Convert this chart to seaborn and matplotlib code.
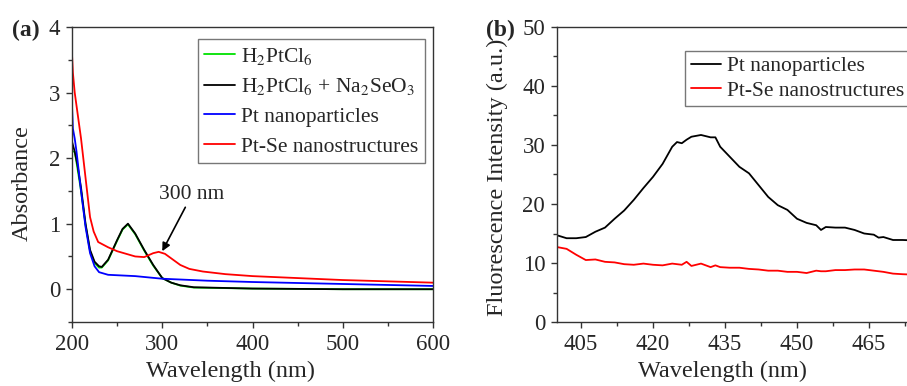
import numpy as np
import pandas as pd
import matplotlib
matplotlib.use("Agg")
import matplotlib.pyplot as plt
from matplotlib.ticker import MultipleLocator
import seaborn as sns

# ---------------- data: panel (a) UV-vis absorbance ----------------
wl_green = [200, 203, 206, 210, 215, 220, 225, 230, 233, 240, 250, 256, 262, 270, 280, 290, 300, 310, 320, 335, 400, 500, 600]
abs_green = [2.1, 2.1, 1.85, 1.5, 0.98, 0.58, 0.4, 0.33, 0.33, 0.44, 0.74, 0.91, 0.99, 0.84, 0.59, 0.36, 0.17, 0.1, 0.055, 0.025, 0.01, 0.0, 0.0]

wl_black = [200, 203, 206, 210, 215, 220, 225, 230, 233, 240, 250, 256, 262, 270, 280, 290, 300, 310, 320, 335, 400, 500, 600]
abs_black = [2.25, 2.1, 1.9, 1.55, 1.0, 0.6, 0.42, 0.35, 0.34, 0.45, 0.75, 0.92, 1.0, 0.85, 0.6, 0.37, 0.17, 0.1, 0.06, 0.03, 0.01, 0.0, 0.0]

wl_blue = [200, 201, 203, 205, 210, 215, 220, 225, 230, 240, 270, 300, 350, 400, 500, 600]
abs_blue = [2.8, 2.45, 2.3, 2.1, 1.5, 0.95, 0.55, 0.35, 0.26, 0.22, 0.2, 0.16, 0.13, 0.11, 0.08, 0.05]

wl_red = [200, 201, 203, 206, 210, 215, 220, 224, 229, 240, 250, 260, 270, 280, 290, 296, 303, 310, 320, 330, 345, 370, 400, 450, 500, 550, 600]
abs_red = [3.58, 3.3, 3.0, 2.7, 2.3, 1.7, 1.1, 0.88, 0.72, 0.64, 0.58, 0.54, 0.5, 0.49, 0.55, 0.57, 0.54, 0.47, 0.37, 0.31, 0.27, 0.23, 0.2, 0.17, 0.14, 0.12, 0.1]

labels_a = [r"H$_2$PtCl$_6$", r"H$_2$PtCl$_6$ + Na$_2$SeO$_3$", "Pt nanoparticles", "Pt-Se nanostructures"]
colors_a = ["#00e000", "black", "#0000ff", "#ff0000"]

# ---------------- data: panel (b) fluorescence ----------------
wl_fl = [400, 402, 404, 406, 408, 410, 412, 414, 416, 418, 420, 422, 424, 425, 426, 427, 428, 430, 432, 433,
         434, 436, 438, 440, 442, 444, 446, 448, 450, 452, 454, 455, 456, 458, 460, 462, 464, 466, 467, 468, 470, 472, 475]
fl_pt = [14.7, 14.2, 14.2, 14.4, 15.3, 16.0, 17.5, 18.9, 20.7, 22.7, 24.6, 26.8, 29.7, 30.5, 30.3, 30.9, 31.4, 31.7, 31.3, 31.3,
         29.7, 28.0, 26.3, 25.2, 23.2, 21.2, 19.8, 19.0, 17.5, 16.8, 16.4, 15.6, 16.1, 16.0, 16.0, 15.6, 15.0, 14.8, 14.3, 14.4, 13.9, 13.9, 13.8]
fl_ptse = [12.7, 12.4, 11.4, 10.5, 10.6, 10.2, 10.1, 9.8, 9.7, 9.9, 9.7, 9.6, 9.9, 9.8, 9.7, 10.2, 9.5, 9.9, 9.3, 9.6,
           9.3, 9.2, 9.2, 9.0, 8.9, 8.7, 8.7, 8.5, 8.5, 8.3, 8.7, 8.6, 8.6, 8.8, 8.8, 8.9, 8.9, 8.7, 8.6, 8.5, 8.2, 8.1, 8.0]
labels_b = ["Pt nanoparticles", "Pt-Se nanostructures"]
colors_b = ["black", "#ff0000"]

# ---------------- style ----------------
sns.set_style("ticks")
plt.rcParams["font.family"] = ["Liberation Serif", "DejaVu Serif"]
plt.rcParams["mathtext.fontset"] = "stix"
plt.rcParams["axes.linewidth"] = 1.0
plt.rcParams["xtick.direction"] = "out"
plt.rcParams["ytick.direction"] = "out"

fig = plt.figure(figsize=(9.07, 3.86), dpi=100)
W, H = 907, 386

def add_axes(x0, x1, y0, y1):
    return fig.add_axes([x0 / W, 1 - y1 / H, (x1 - x0) / W, (y1 - y0) / H])

axa = add_axes(72, 433, 27, 322)
axb = add_axes(557, 917, 27, 322)

LAB = 17.5
TICK = 16.5
LEG = 15.5

# panel a
series_a = [(wl_green, abs_green), (wl_black, abs_black), (wl_blue, abs_blue), (wl_red, abs_red)]
for (x, y), lab, c in zip(series_a, labels_a, colors_a):
    df = pd.DataFrame({"Wavelength": x, "Absorbance": y})
    sns.lineplot(data=df, x="Wavelength", y="Absorbance", ax=axa, color=c, label=lab, linewidth=1.3)

axa.set_xlim(200, 600)
axa.set_ylim(-0.5, 4)
axa.xaxis.set_major_locator(MultipleLocator(100))
axa.xaxis.set_minor_locator(MultipleLocator(50))
axa.yaxis.set_major_locator(MultipleLocator(1))
axa.yaxis.set_minor_locator(MultipleLocator(0.5))
axa.set_xlabel("Wavelength (nm)", fontsize=LAB)
axa.set_ylabel("Absorbance", fontsize=LAB)
axa.xaxis.set_label_coords((231 - 72) / 361, -0.132)
axa.yaxis.set_label_coords(-0.108, 0.47)
axa.annotate("300 nm", xy=(300, 0.58), xytext=(333, 1.3), fontsize=15.5, ha="center", va="bottom",
             arrowprops=dict(arrowstyle="-|>", color="black", lw=1.2, mutation_scale=12, shrinkA=0, shrinkB=0))
lega = axa.legend(loc="upper left", bbox_to_anchor=(0.349, 0.959), borderaxespad=0, fontsize=LEG,
                  frameon=True, fancybox=False, edgecolor="#555555", handlelength=1.4,
                  labelspacing=0.45, borderpad=0.3, handletextpad=0.3)
lega.get_frame().set_linewidth(1.0)

# panel b
series_b = [fl_pt, fl_ptse]
for y, lab, c in zip(series_b, labels_b, colors_b):
    df = pd.DataFrame({"Wavelength": wl_fl, "Intensity": y})
    sns.lineplot(data=df, x="Wavelength", y="Intensity", ax=axb, color=c, label=lab, linewidth=1.3)

axb.set_xlim(400, 475)
axb.set_ylim(0, 50)
axb.set_xticks([405, 420, 435, 450, 465])
axb.xaxis.set_minor_locator(MultipleLocator(7.5))
axb.yaxis.set_major_locator(MultipleLocator(10))
axb.yaxis.set_minor_locator(MultipleLocator(5))
axb.set_xlabel("Wavelength (nm)", fontsize=LAB)
axb.set_ylabel("Fluorescence Intensity (a.u.)", fontsize=LAB)
axb.xaxis.set_label_coords((722 - 557) / 360, -0.132)
axb.yaxis.set_label_coords(-0.136, 0.49)
legb = axb.legend(loc="upper left", bbox_to_anchor=(0.356, 0.919), borderaxespad=0, fontsize=LEG,
                  frameon=True, fancybox=False, edgecolor="#555555", handlelength=1.4,
                  labelspacing=0.2, borderpad=0.25, handletextpad=0.3)
legb.get_frame().set_linewidth(1.0)

for ax in (axa, axb):
    for s in ax.spines.values():
        s.set_visible(True)
        s.set_color("#333333")
    ax.tick_params(which="major", length=4.5, width=1.0, labelsize=TICK, color="#333333", pad=4)
    ax.tick_params(which="minor", length=3, width=1.0, color="#333333")
    ax.tick_params(top=False, right=False)

fig.text(12 / W, 1 - 30 / H, "(a)", fontsize=17, fontweight="bold", va="center", ha="left")
fig.text(486 / W, 1 - 30 / H, "(b)", fontsize=17, fontweight="bold", va="center", ha="left")

fig.savefig("out.png", dpi=100)
